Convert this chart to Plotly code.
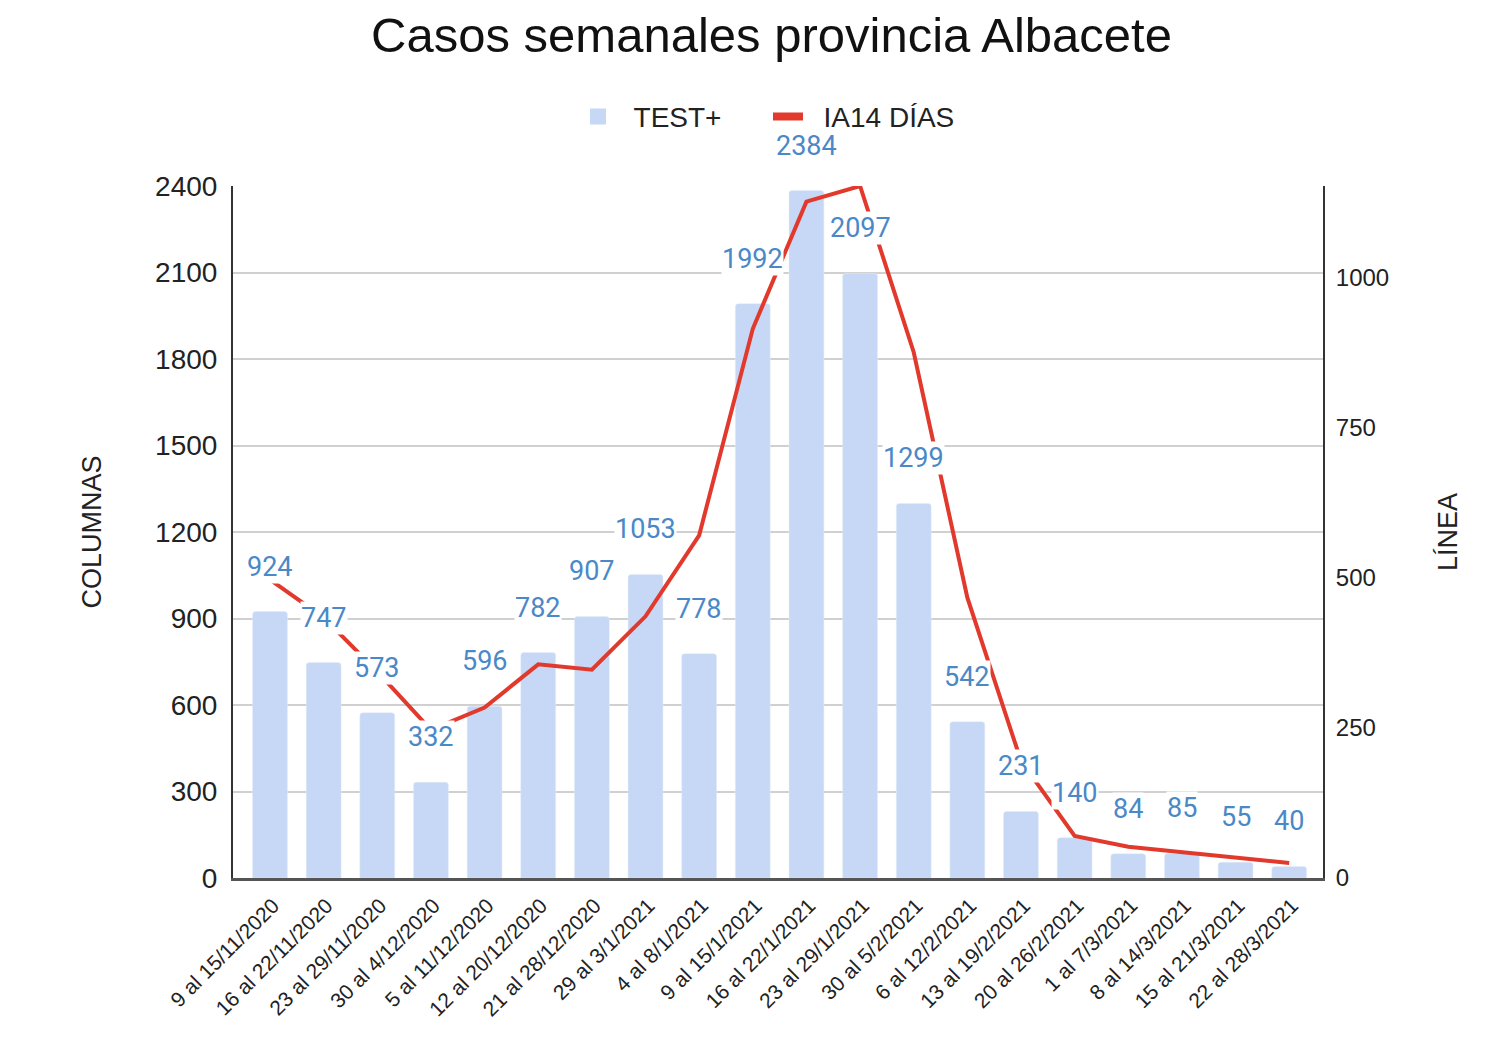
import plotly.graph_objects as go

semanas = ['9 al 15/11/2020', '16 al 22/11/2020', '23 al 29/11/2020', '30 al 4/12/2020',
           '5 al 11/12/2020', '12 al 20/12/2020', '21 al 28/12/2020', '29 al 3/1/2021',
           '4 al 8/1/2021', '9 al 15/1/2021', '16 al 22/1/2021', '23 al 29/1/2021',
           '30 al 5/2/2021', '6 al 12/2/2021', '13 al 19/2/2021', '20 al 26/2/2021',
           '1 al 7/3/2021', '8 al 14/3/2021', '15 al 21/3/2021', '22 al 28/3/2021']
test_pos = [924, 747, 573, 332, 596, 782, 907, 1053, 778, 1992,
            2384, 2097, 1299, 542, 231, 140, 84, 85, 55, 40]
# IA 14 dias (eje derecho)
ia14 = [497, 434, 344, 247, 284, 356, 347, 436, 571, 915,
        1127, 1153, 876, 467, 195, 70, 52, 43, 35, 25]

left_ticks = [0, 300, 600, 900, 1200, 1500, 1800, 2100, 2400]
right_ticks = [0, 250, 500, 750, 1000]

font_family = 'Liberation Sans, Arial, sans-serif'
bar_color = '#c6d8f5'
line_color = '#e2392d'
label_color = '#4a88c7'

fig = go.Figure()
fig.add_trace(go.Bar(x=semanas, y=test_pos, name='TEST+', marker_color=bar_color,
                     marker_cornerradius=3, yaxis='y', showlegend=False))
fig.add_trace(go.Scatter(x=semanas, y=ia14, name='IA14 DÍAS', mode='lines',
                         line=dict(color=line_color, width=4), yaxis='y2',
                         cliponaxis=False, showlegend=False))

# legend entries only (bigger symbols, like the original)
fig.add_trace(go.Scatter(x=[None], y=[None], name='\u00a0\u00a0TEST+', mode='markers',
                         marker=dict(symbol='square', size=28, color=bar_color)))
fig.add_trace(go.Scatter(x=[None], y=[None], name='\u00a0\u00a0IA14 DÍAS', mode='lines',
                         line=dict(color=line_color, width=8)))

# value labels ~45px above each bar, white background breaks the line like a halo
for s, v in zip(semanas, test_pos):
    fig.add_annotation(x=s, y=v, xref='x', yref='y', text=str(v), showarrow=False,
                       yanchor='middle', yshift=45, bgcolor='white', borderpad=0,
                       font=dict(family='Roboto, ' + font_family, size=27, color=label_color))

fig.update_layout(
    width=1500, height=1048,
    paper_bgcolor='white', plot_bgcolor='white',
    margin=dict(l=225, r=185, t=178, b=178),
    font=dict(family=font_family, color='#222'),
    title=dict(text='Casos semanales provincia Albacete', x=0.509, xanchor='center',
               y=1 - 27 / 1048, yanchor='middle', font=dict(size=49, color='#111')),
    bargap=0.35,
    legend=dict(orientation='h', x=0.3165, xanchor='left', y=1.1, yanchor='middle',
                bgcolor='rgba(0,0,0,0)',
                font=dict(size=28, color='#222'), traceorder='normal',
                itemwidth=30, entrywidth=145),
    showlegend=True,
)
fig.update_xaxes(range=[-0.69, 19.63], tickangle=-45, tickfont=dict(size=21, color='#222'),
                 showline=True, linecolor='#555', linewidth=3, showgrid=False,
                 layer='below traces', ticks='', ticklabelstandoff=4, ticklabelshift=3)
fig.update_layout(
    yaxis=dict(range=[0, 2400], tickvals=left_ticks, tickfont=dict(size=28, color='#222'),
               showgrid=True, gridcolor='#d0d0d0', gridwidth=2, zeroline=False,
               showline=True, linecolor='#333', linewidth=2, ticklabelstandoff=8,
               title=dict(text='COLUMNAS', font=dict(size=27, color='#222'), standoff=46)),
    yaxis2=dict(range=[0, 1153], tickvals=right_ticks, overlaying='y', side='right',
                tickfont=dict(size=24, color='#222'), showgrid=False, zeroline=False,
                showline=True, linecolor='#333', linewidth=2, ticklabelstandoff=6,
                title=dict(text='LÍNEA', font=dict(size=27, color='#222'), standoff=50)),
)

fig.write_html("out.html")
